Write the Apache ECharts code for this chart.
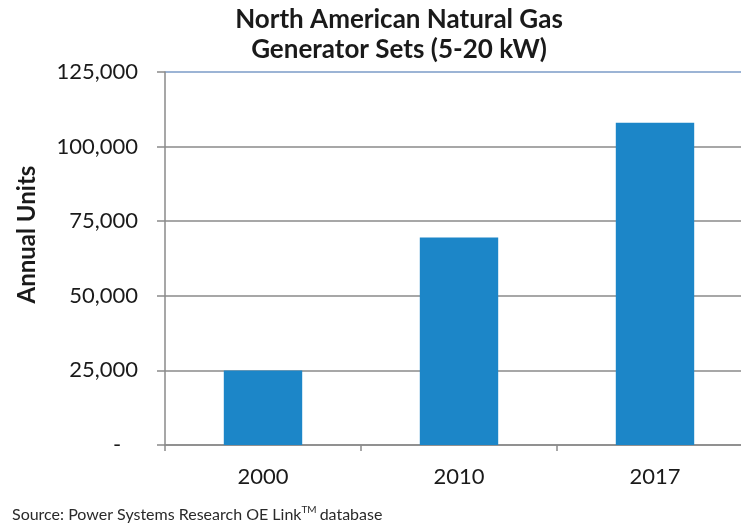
<!DOCTYPE html>
<html><head><meta charset="utf-8">
<script src="https://cdn.jsdelivr.net/npm/echarts@6/dist/echarts.min.js"></script>
<style>html,body{margin:0;padding:0;background:#fff}#c{width:741px;height:523px}</style>
</head><body><div id="c"></div>
<script>
const categories = ['2000', '2010', '2017'];
const annualUnits = [25000, 69500, 108000];
const yTicks = [0, 25000, 50000, 75000, 100000, 125000];
const titleLines = ['North American Natural Gas', 'Generator Sets (5-20 kW)'];
const yAxisName = 'Annual Units';
const sourceText = 'Source: Power Systems Research OE Link';

const chart = echarts.init(document.getElementById('c'), null, {renderer: 'canvas'});
const font = 'Lato, "Open Sans", sans-serif';
chart.setOption({
  animation: false,
  backgroundColor: '#ffffff',
  title: [{
    text: titleLines.join('\n'),
    left: 394, top: 0, textAlign: 'center',
    textStyle: {fontFamily: font, fontWeight: 'bold', fontSize: 26, color: '#1a1a1a', lineHeight: 30}
  }, {
    text: '{a|' + sourceText + '}{s|TM}{a|database}',
    left: 7, top: 500,
    textStyle: {fontWeight: 'normal', rich: {
      a: {fontFamily: font, fontSize: 16, fontWeight: 'normal', color: '#2a2a2a', verticalAlign: 'bottom'},
      s: {fontFamily: font, fontSize: 10, fontWeight: 'normal', color: '#2a2a2a', verticalAlign: 'top', padding: [0, 3, 8, 0]}
    }}
  }],
  grid: {left: 165, width: 588, top: 72, height: 373, containLabel: false, outerBoundsMode: 'none'},
  xAxis: {
    type: 'category', data: categories,
    axisLine: {lineStyle: {color: '#8a8a8a', width: 1.5}},
    axisTick: {show: true, length: 6, lineStyle: {color: '#8a8a8a', width: 1.5}},
    axisLabel: {fontFamily: font, fontSize: 22, color: '#1a1a1a', margin: 21}
  },
  yAxis: {
    type: 'value', min: 0, max: 125000, interval: 25000,
    name: yAxisName, nameLocation: 'middle', nameGap: 126, nameRotate: 90,
    nameTextStyle: {fontFamily: font, fontWeight: 'bold', fontSize: 24, color: '#1a1a1a', padding: [0, 0, 0, 48]},
    axisLine: {show: true, lineStyle: {color: '#8a8a8a', width: 1.5}},
    axisTick: {show: true, length: 8, lineStyle: {color: '#8a8a8a', width: 1.5}},
    splitLine: {show: true, lineStyle: {color: ['#8a8a8a', '#8a8a8a', '#8a8a8a', '#8a8a8a', '#8a8a8a', '#7b9bc7'], width: 1.5}},
    axisLabel: {
      fontFamily: font, fontSize: 22, color: '#1a1a1a', margin: 27,
      formatter: v => v === 0 ? '-   ' : v.toLocaleString('en-US')
    }
  },
  series: [{
    type: 'bar', data: annualUnits, barWidth: '40%',
    itemStyle: {color: '#1c86c8'}
  }]
});
</script></body></html>
